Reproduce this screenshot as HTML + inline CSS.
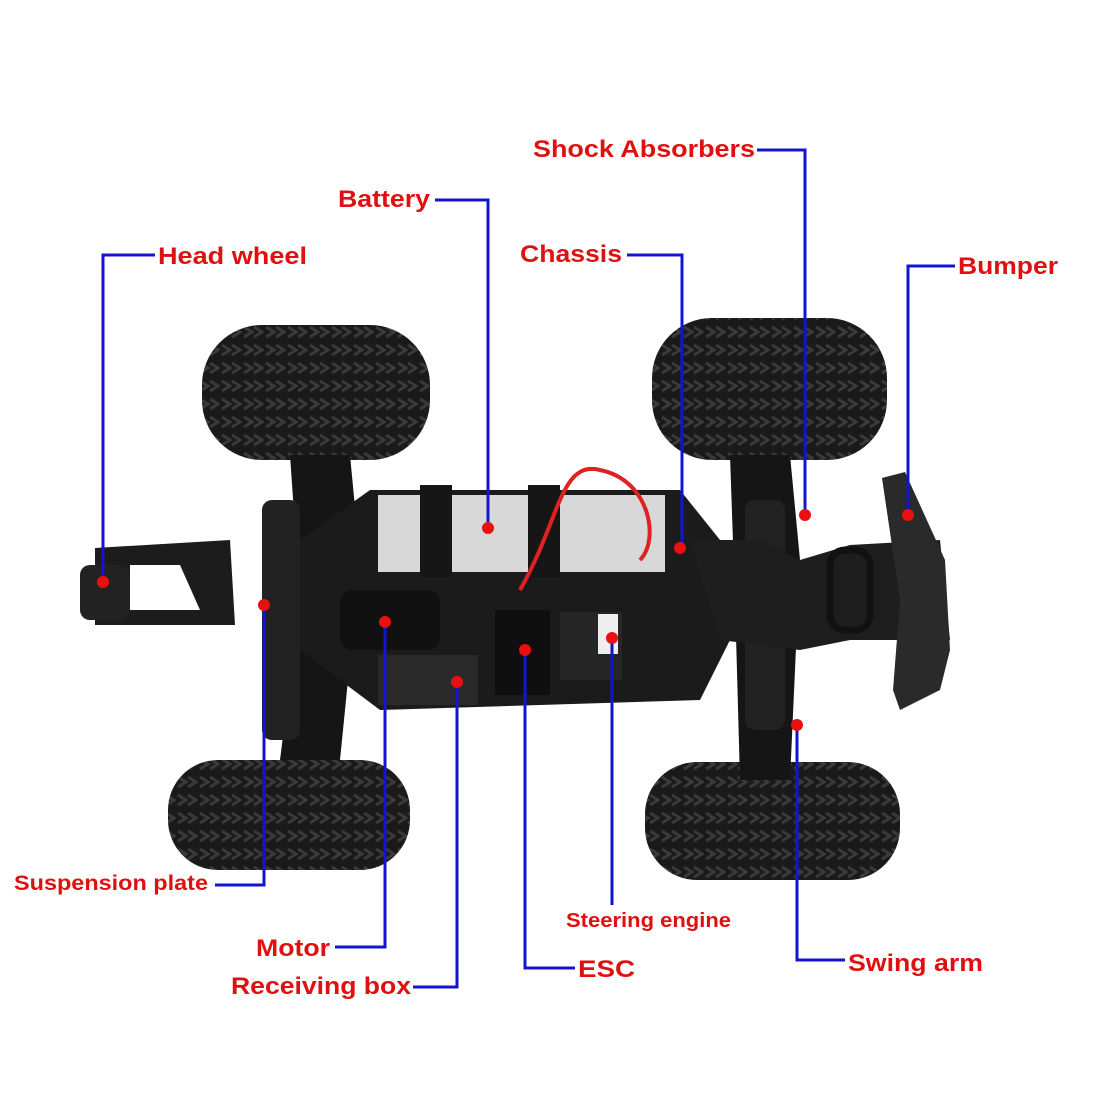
<!DOCTYPE html>
<html><head><meta charset="utf-8"><style>
body{margin:0;background:#fff}
svg{display:block}
text{font-family:"Liberation Sans",sans-serif;font-weight:bold;fill:#e01010}
</style></head><body>
<svg width="1100" height="1100" viewBox="0 0 1100 1100" xmlns="http://www.w3.org/2000/svg">
<defs>
<pattern id="tread" width="22" height="18" patternUnits="userSpaceOnUse">
<rect width="22" height="18" fill="#1a1a1a"/>
<path d="M2 3 l8 5 l-8 5 M12 3 l8 5 l-8 5" stroke="#3a3a3a" stroke-width="3" fill="none"/>
</pattern>
</defs>
<rect x="202" y="325" width="228" height="135" rx="60" fill="url(#tread)"/>
<rect x="168" y="760" width="242" height="110" rx="50" fill="url(#tread)"/>
<rect x="652" y="318" width="235" height="142" rx="60" fill="url(#tread)"/>
<rect x="645" y="762" width="255" height="118" rx="52" fill="url(#tread)"/>
<path d="M290 455 L350 455 L360 560 L340 760 L280 760 L300 600 Z" fill="#151515"/>
<path d="M730 455 L790 455 L800 560 L790 780 L740 780 L735 600 Z" fill="#151515"/>
<rect x="262" y="500" width="38" height="240" rx="10" fill="#222"/>
<rect x="745" y="500" width="40" height="230" rx="10" fill="#222"/>
<path d="M95 548 L230 540 L235 625 L95 625 Z" fill="#1c1c1c"/>
<path d="M130 565 L180 565 L200 610 L130 610 Z" fill="#fff"/>
<rect x="80" y="565" width="50" height="55" rx="10" fill="#222"/>
<path d="M300 540 L370 490 L680 490 L720 540 L740 620 L700 700 L380 710 L300 650 Z" fill="#1b1b1b"/>
<path d="M690 540 L760 540 L800 560 L850 545 L940 540 L950 640 L850 640 L800 650 L720 640 Z" fill="#1e1e1e"/>
<path d="M378 495 L665 495 L665 572 L378 572 Z" fill="#d8d8d8"/>
<rect x="420" y="485" width="32" height="92" fill="#161616"/>
<rect x="528" y="485" width="32" height="92" fill="#161616"/>
<path d="M520 590 C560 520 560 460 600 470 C650 480 660 540 640 560" stroke="#d22" stroke-width="4" fill="none"/>
<rect x="340" y="590" width="100" height="60" rx="12" fill="#111"/>
<rect x="378" y="655" width="100" height="50" fill="#2a2a2a"/>
<rect x="495" y="610" width="55" height="85" fill="#0f0f0f"/>
<rect x="560" y="612" width="62" height="68" fill="#262626"/>
<rect x="598" y="614" width="20" height="40" fill="#eee"/>
<path d="M882 478 L905 472 L945 560 L950 650 L940 690 L900 710 L893 690 L900 600 Z" fill="#2a2a2a"/>
<rect x="830" y="550" width="40" height="80" rx="15" fill="none" stroke="#111" stroke-width="7"/>
<g stroke="#1414d0" stroke-width="3" fill="none">
<polyline points="155,255 103,255 103,582"/>
<polyline points="435,200 488,200 488,528"/>
<polyline points="757,150 805,150 805,515"/>
<polyline points="627,255 682,255 682,548"/>
<polyline points="955,266 908,266 908,515"/>
<polyline points="215,885 264,885 264,605"/>
<polyline points="335,947 385,947 385,622"/>
<polyline points="413,987 457,987 457,682"/>
<polyline points="575,968 525,968 525,650"/>
<polyline points="612,905 612,640"/>
<polyline points="845,960 797,960 797,725"/>
</g>
<g fill="#e81010">
<circle cx="103" cy="582" r="6"/><circle cx="488" cy="528" r="6"/>
<circle cx="805" cy="515" r="6"/><circle cx="680" cy="548" r="6"/>
<circle cx="908" cy="515" r="6"/><circle cx="264" cy="605" r="6"/>
<circle cx="385" cy="622" r="6"/><circle cx="457" cy="682" r="6"/>
<circle cx="525" cy="650" r="6"/><circle cx="612" cy="638" r="6"/>
<circle cx="797" cy="725" r="6"/>
</g>
<g lengthAdjust="spacingAndGlyphs">
<text x="158" y="264" font-size="24" textLength="149" lengthAdjust="spacingAndGlyphs">Head wheel</text>
<text x="338" y="207" font-size="24" textLength="92" lengthAdjust="spacingAndGlyphs">Battery</text>
<text x="533" y="157" font-size="24" textLength="222" lengthAdjust="spacingAndGlyphs">Shock Absorbers</text>
<text x="520" y="262" font-size="24" textLength="102" lengthAdjust="spacingAndGlyphs">Chassis</text>
<text x="958" y="274" font-size="24" textLength="100" lengthAdjust="spacingAndGlyphs">Bumper</text>
<text x="14" y="890" font-size="21" textLength="194" lengthAdjust="spacingAndGlyphs">Suspension plate</text>
<text x="256" y="956" font-size="24" textLength="74" lengthAdjust="spacingAndGlyphs">Motor</text>
<text x="231" y="994" font-size="24" textLength="180" lengthAdjust="spacingAndGlyphs">Receiving box</text>
<text x="578" y="977" font-size="24" textLength="57" lengthAdjust="spacingAndGlyphs">ESC</text>
<text x="566" y="927" font-size="20" textLength="165" lengthAdjust="spacingAndGlyphs">Steering engine</text>
<text x="848" y="971" font-size="24" textLength="135" lengthAdjust="spacingAndGlyphs">Swing arm</text>
</g>
</svg>
</body></html>
